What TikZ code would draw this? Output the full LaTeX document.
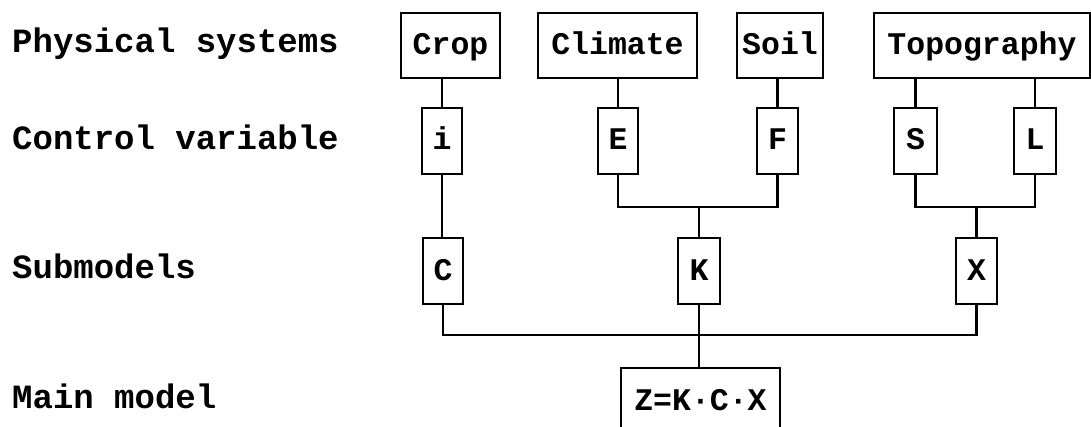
\documentclass[tikz,border=0pt]{standalone}
\usepackage{fontspec}
\setmainfont{Liberation Mono}
\begin{document}
\begin{tikzpicture}[x=1pt,y=-1pt,
  every node/.style={font=\fontsize{31.5}{32}\selectfont\bfseries},
  bigbox/.style={draw,line width=2.4pt,inner sep=0pt,minimum height=65pt,text height=18pt,text depth=0pt},
  varbox/.style={draw,line width=2.4pt,inner sep=0pt,minimum height=66pt,text height=18pt,text depth=0pt},
  lbl/.style={anchor=base west,inner sep=0pt,font=\fontsize{34}{34}\selectfont\bfseries},
  conn/.style={line width=2.2pt}]
\clip (0,0) rectangle (1091,427);
% row labels
\node[lbl] (l1) at (12,53) {Physical systems};
\node[lbl] (l2) at (12,150) {Control variable};
\node[lbl] (l3) at (12,279) {Submodels};
\node[lbl] (l4) at (12,408) {Main model};
% physical systems
\node[bigbox,minimum width=99pt] (crop) at (450.5,45.5) {Crop};
\node[bigbox,minimum width=159pt] (climate) at (617.5,45.5) {Climate};
\node[bigbox,minimum width=86pt] (soil) at (780,45.5) {Soil};
\node[bigbox,minimum width=216pt] (topo) at (982,45.5) {Topography};
% control variables
\node[varbox,minimum width=40pt] (i) at (442,141) {i};
\node[varbox,minimum width=40pt] (E) at (618,141) {E};
\node[varbox,minimum width=41pt] (F) at (777.5,141) {F};
\node[varbox,minimum width=43pt] (S) at (915.5,141) {S};
\node[varbox,minimum width=42pt] (L) at (1035,141) {L};
% submodels
\node[varbox,minimum width=40pt] (C) at (443,271) {C};
\node[varbox,minimum width=42pt] (K) at (699,271) {K};
\node[varbox,minimum width=41pt] (X) at (976.5,271) {X};
% main model
\node[varbox,minimum width=159pt,minimum height=70pt,text height=14pt,anchor=north] (main) at (700.5,367) {Z=K·C·X};
% bus points
\coordinate (b1) at (699,207);
\coordinate (b2) at (976.5,207);
\coordinate (b3) at (699,335);
% connectors
\draw[conn] (i.north) -- (i.north |- crop.south);
\draw[conn] (E.north) -- (E.north |- climate.south);
\draw[conn] (F.north) -- (F.north |- soil.south);
\draw[conn] (S.north) -- (S.north |- topo.south);
\draw[conn] (L.north) -- (L.north |- topo.south);
\draw[conn] (i.south) -- (i.south |- C.north);
\draw[conn] (E.south) |- (b1) -| (F.south);
\draw[conn] (b1) -- (K.north);
\draw[conn] (S.south) |- (b2) -| (L.south);
\draw[conn] (b2) -- (X.north);
\draw[conn] (C.south) |- (b3) -| (X.south);
\draw[conn] (K.south) -- (K.south |- main.north);
\end{tikzpicture}
\end{document}
